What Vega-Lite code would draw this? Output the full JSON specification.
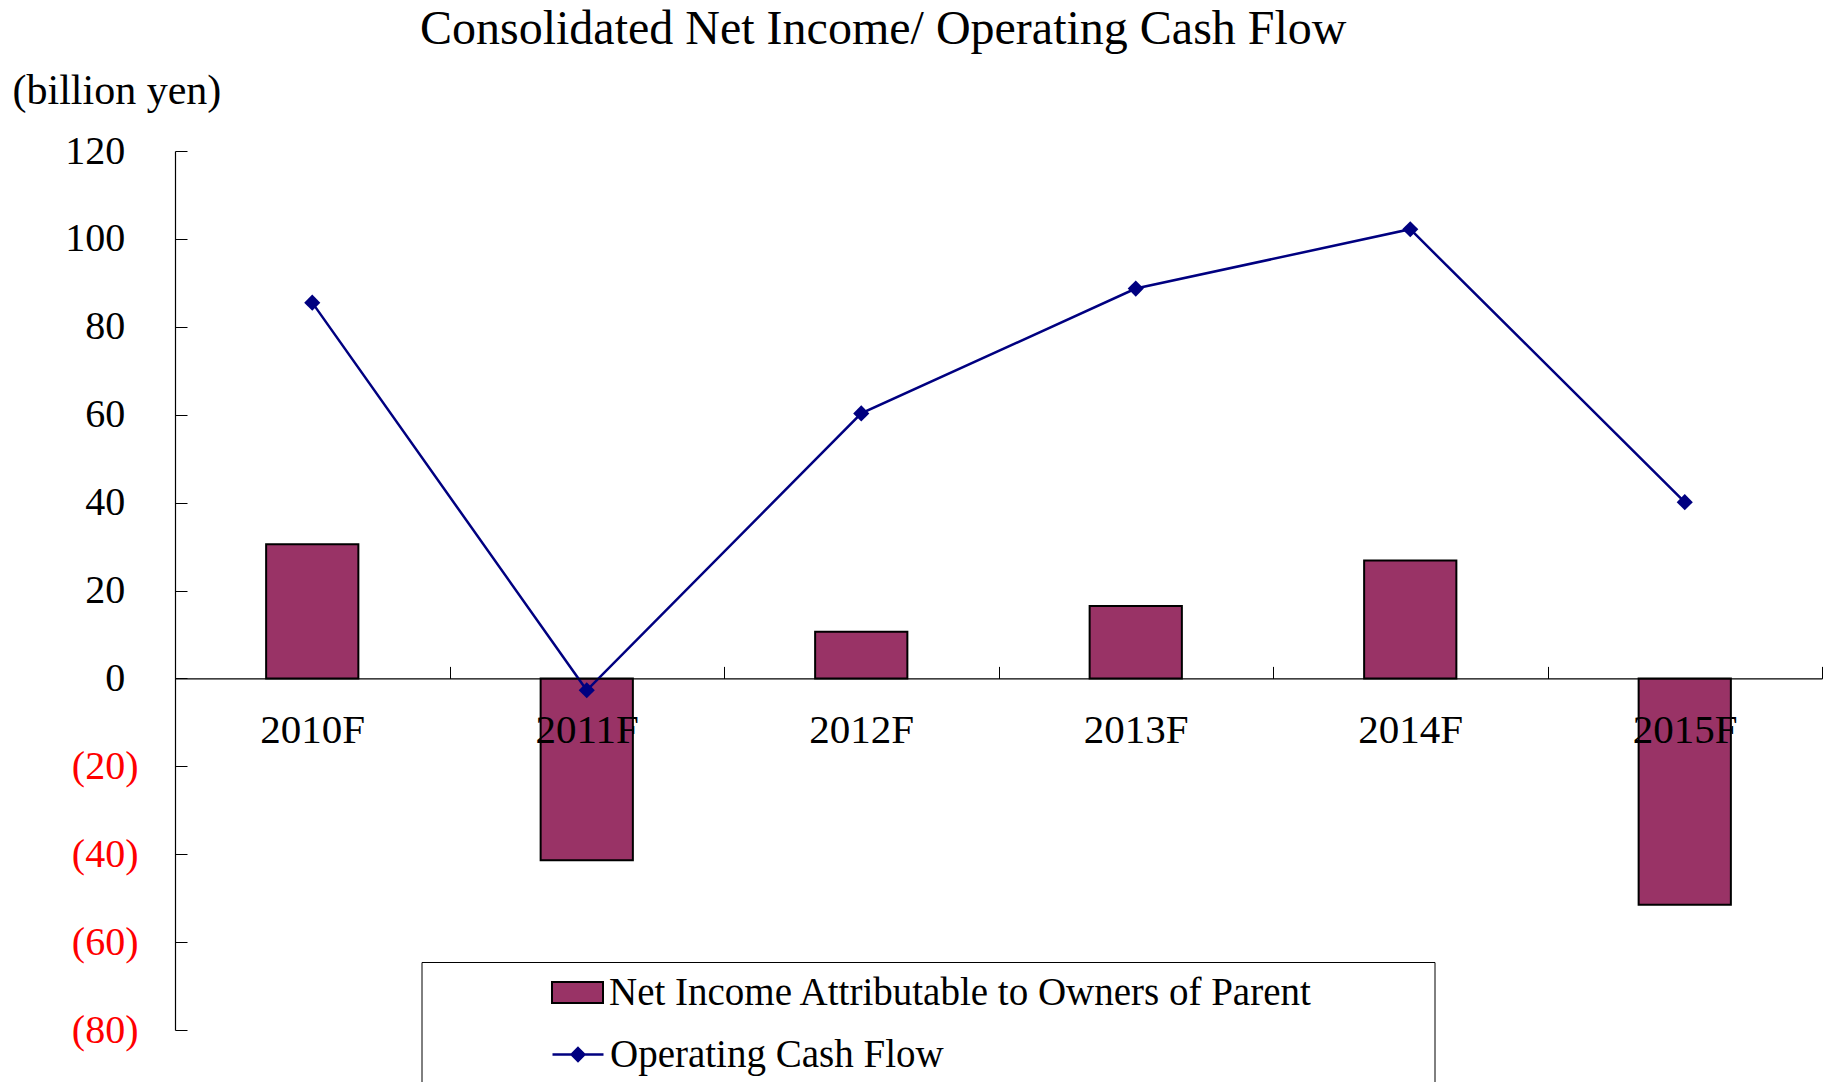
{
  "$schema": "https://vega.github.io/schema/vega-lite/v6.json",
  "autosize": {"type": "none"},
  "padding": {"left": 175, "top": 151, "right": 9, "bottom": 52},
  "width": 1647,
  "height": 879,
  "background": "white",
  "config": {
    "view": {"stroke": null},
    "font": "Liberation Serif"
  },
  "title": {
    "text": "Consolidated Net Income/ Operating Cash Flow",
    "font": "Liberation Serif",
    "fontSize": 48,
    "fontWeight": "normal",
    "color": "black",
    "anchor": "start",
    "frame": "group",
    "dx": 245,
    "baseline": "alphabetic",
    "offset": -23
  },
  "data": {
    "values": [
      {"year": "2010F", "net_income": 30.5, "cash_flow": 85.5},
      {"year": "2011F", "net_income": -41.4, "cash_flow": -2.7},
      {"year": "2012F", "net_income": 10.6, "cash_flow": 60.3},
      {"year": "2013F", "net_income": 16.5, "cash_flow": 88.7},
      {"year": "2014F", "net_income": 26.8, "cash_flow": 102.2},
      {"year": "2015F", "net_income": -51.5, "cash_flow": 40.1}
    ]
  },
  "resolve": {"scale": {"color": "independent"}, "legend": {"color": "independent"}},
  "encoding": {
    "x": {
      "field": "year",
      "type": "nominal",
      "sort": null,
      "scale": {"paddingInner": 0.664, "paddingOuter": 0.332},
      "axis": {
        "title": null,
        "orient": "bottom",
        "offset": -351.6,
        "labelAngle": 0,
        "labelFont": "Liberation Serif",
        "labelFontSize": 41,
        "labelColor": "black",
        "labelPadding": 44.5,
        "labelBaseline": "top",
        "tickBand": "center",
        "tickOffset": 137.25,
        "labelOffset": -137.25,
        "tickSize": -12,
        "tickColor": "black",
        "domainColor": "black",
        "domainWidth": 1.2,
        "zindex": 1
      }
    }
  },
  "layer": [
    {
      "mark": {"type": "bar", "stroke": "black", "strokeWidth": 2},
      "encoding": {
        "y": {
          "field": "net_income",
          "type": "quantitative",
          "scale": {"domain": [-80, 120], "nice": false},
          "axis": {
            "values": [-80, -60, -40, -20, 0, 20, 40, 60, 80, 100, 120],
            "grid": false,
            "labelExpr": "datum.value < 0 ? '(' + abs(datum.value) + ')' : datum.value + '\u2004\u200b'",
            "labelColor": {"condition": {"test": "datum.value < 0", "value": "#ff0000"}, "value": "black"},
            "labelFont": "Liberation Serif",
            "labelFontSize": 40,
            "labelPadding": 49,
            "tickSize": -12,
            "tickColor": "black",
            "domainColor": "black",
            "domainWidth": 1.2,
            "title": "(billion yen)",
            "titleAngle": 0,
            "titleAlign": "left",
            "titleBaseline": "alphabetic",
            "titleX": -163,
            "titleY": -48,
            "titleFont": "Liberation Serif",
            "titleFontSize": 42,
            "titleFontWeight": "normal",
            "titleColor": "black"
          }
        },
        "color": {
          "datum": "Net Income Attributable to Owners of Parent",
          "type": "nominal",
          "scale": {
            "domain": ["Net Income Attributable to Owners of Parent"],
            "range": ["#993366"]
          },
          "legend": {
            "title": null,
            "orient": "none",
            "legendX": 246.5,
            "legendY": 815,
            "direction": "vertical",
            "padding": 0,
            "strokeColor": null,
            "fillColor": null,
            "symbolOffset": 129.5,
            "labelOffset": 5,
            "labelFont": "Liberation Serif",
            "labelFontSize": 39,
            "labelColor": "black",
            "labelLimit": 0,
            "symbolType": "M-1,-0.41H1V0.41H-1Z",
            "symbolSize": 2601,
            "symbolFillColor": "#993366",
            "symbolStrokeColor": "black",
            "symbolStrokeWidth": 2,
            "symbolOpacity": 1,
            "zindex": 2
          }
        }
      }
    },
    {
      "mark": {"type": "line", "strokeWidth": 2.5, "point": {"shape": "diamond", "size": 260, "filled": true, "opacity": 1}},
      "encoding": {
        "y": {"field": "cash_flow", "type": "quantitative"},
        "color": {
          "datum": "Operating Cash Flow",
          "type": "nominal",
          "scale": {"domain": ["Operating Cash Flow"], "range": ["#000080"]},
          "legend": {
            "title": "\u00a0",
            "titleOrient": "right",
            "titlePadding": 425,
            "titleFontSize": 10,
            "orient": "none",
            "legendX": 246.5,
            "legendY": 811,
            "direction": "vertical",
            "padding": 65.5,
            "strokeColor": "black",
            "fillColor": null,
            "symbolOffset": 64,
            "labelOffset": 5,
            "labelFont": "Liberation Serif",
            "labelFontSize": 39,
            "labelColor": "black",
            "labelLimit": 0,
            "symbolType": "M-1,0H1M0,-0.25L0.25,0L0,0.25L-0.25,0Z",
            "symbolSize": 2601,
            "symbolFillColor": "#000080",
            "symbolStrokeColor": "#000080",
            "symbolStrokeWidth": 2.5,
            "symbolOpacity": 1,
            "zindex": 1
          }
        }
      }
    }
  ]
}
